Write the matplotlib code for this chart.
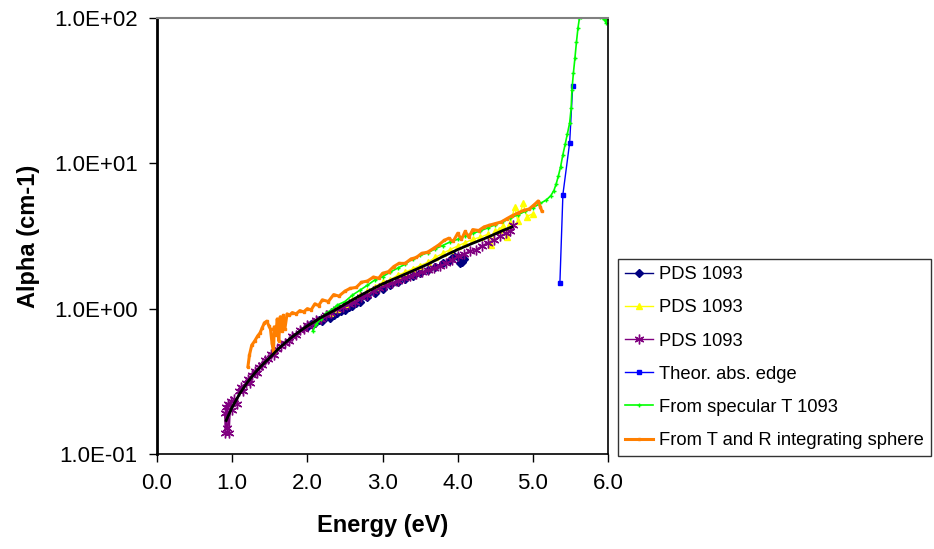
import matplotlib
matplotlib.use('Agg')
import matplotlib.pyplot as plt
from matplotlib.ticker import FixedLocator, FuncFormatter, NullLocator

plt.rcParams['font.family'] = ['Liberation Sans', 'DejaVu Sans']

# PDS 1093 (navy diamonds)
pds_a_e = [2.00, 2.05, 2.10, 2.15, 2.20, 2.25, 2.30, 2.35, 2.40, 2.45, 2.50, 2.55,
           2.60, 2.65, 2.70, 2.80, 2.90, 3.00, 3.10, 3.20, 3.30, 3.40, 3.50, 3.60,
           3.70, 3.80, 3.90, 3.95, 4.00, 4.03, 4.06, 4.08]
pds_a_y = [0.75, 0.78, 0.80, 0.83, 0.82, 0.87, 0.86, 0.91, 0.94, 0.96, 0.98, 1.02,
           1.05, 1.10, 1.12, 1.20, 1.28, 1.36, 1.45, 1.52, 1.60, 1.68, 1.76, 1.85,
           1.95, 2.05, 2.15, 2.30, 2.25, 2.05, 2.10, 2.20]

# PDS 1093 (yellow triangles)
pds_b_e = [2.30, 2.40, 2.50, 2.60, 2.70, 2.80, 2.90, 3.00, 3.10, 3.20, 3.30, 3.40,
           3.50, 3.60, 3.70, 3.80, 3.90, 4.00, 4.10, 4.20, 4.30, 4.40, 4.45, 4.50,
           4.55, 4.60, 4.65, 4.70, 4.76, 4.80, 4.87, 4.92, 5.00]
pds_b_y = [0.93, 1.00, 1.08, 1.15, 1.24, 1.32, 1.42, 1.52, 1.58, 1.70, 1.78, 1.88,
           1.98, 2.08, 2.25, 2.40, 2.55, 2.70, 2.85, 3.00, 3.10, 3.25, 2.75, 3.40,
           3.50, 3.70, 3.10, 3.90, 5.00, 4.00, 5.30, 4.30, 4.50]

# PDS 1093 (purple stars)
pds_c_e = [0.90, 0.91, 0.92, 0.93, 0.94, 0.96, 0.98, 1.00, 1.03, 1.06, 1.09, 1.12,
           1.15, 1.18, 1.21, 1.24, 1.27, 1.30, 1.33, 1.36, 1.40, 1.44, 1.48, 1.52,
           1.56, 1.60, 1.65, 1.70, 1.75, 1.80, 1.85, 1.90, 1.95, 2.00, 2.06, 2.12,
           2.18, 2.25, 2.32, 2.40, 2.48, 2.56, 2.64, 2.72, 2.80, 2.88, 2.96, 3.04,
           3.12, 3.20, 3.28, 3.36, 3.44, 3.52, 3.60, 3.68, 3.76, 3.84, 3.92, 4.00,
           4.08, 4.16, 4.24, 4.32, 4.40, 4.48, 4.56, 4.64, 4.70, 4.74]
pds_c_y = [0.19, 0.14, 0.21, 0.15, 0.22, 0.14, 0.23, 0.20, 0.24, 0.22, 0.27, 0.29,
           0.27, 0.31, 0.33, 0.31, 0.35, 0.37, 0.36, 0.40, 0.41, 0.44, 0.45, 0.49,
           0.48, 0.53, 0.55, 0.58, 0.60, 0.65, 0.66, 0.71, 0.72, 0.77, 0.78, 0.84,
           0.85, 0.91, 0.93, 0.99, 1.02, 1.08, 1.12, 1.20, 1.24, 1.33, 1.38, 1.45,
           1.50, 1.56, 1.62, 1.68, 1.72, 1.78, 1.84, 1.90, 1.98, 2.05, 2.15, 2.30,
           2.38, 2.50, 2.55, 2.70, 2.85, 2.95, 3.15, 3.30, 3.40, 3.75]

# Theoretical absorption edge
theor_e = [5.36, 5.40, 5.49, 5.53]
theor_y = [1.5, 6.1, 13.9, 34.0]

# From specular T 1093
spec_e = [2.07, 2.12, 2.18, 2.25, 2.32, 2.40, 2.50, 2.60, 2.70, 2.80, 2.90, 3.00,
          3.10, 3.20, 3.30, 3.40, 3.50, 3.60, 3.70, 3.80, 3.90, 4.00, 4.10, 4.20,
          4.30, 4.40, 4.50, 4.60, 4.70, 4.80, 4.90, 5.00, 5.10, 5.18, 5.24, 5.28,
          5.31, 5.34, 5.37, 5.40, 5.43, 5.46, 5.49, 5.51, 5.52, 5.54, 5.56, 5.58,
          5.60, 5.62, 5.64, 5.66, 5.75, 5.85, 5.90, 5.93, 5.95, 5.97, 5.99, 6.00]
spec_y = [0.70, 0.78, 0.85, 0.93, 0.98, 1.06, 1.12, 1.24, 1.34, 1.45, 1.58, 1.66,
          1.78, 1.90, 2.02, 2.20, 2.33, 2.42, 2.58, 2.72, 2.88, 3.00, 3.18, 3.30,
          3.42, 3.60, 3.78, 3.98, 4.20, 4.42, 4.68, 4.95, 5.30, 5.60, 6.00, 6.50,
          7.20, 8.20, 9.50, 11.5, 13.5, 16.0, 19.0, 24.0, 32.0, 42.0, 53.0, 68.0,
          85.0, 100, 102, 103, 125, 118, 101, 100, 99, 93, 101, 100]

# From T and R integrating sphere
sphere_e = [1.21, 1.23, 1.26, 1.30, 1.34, 1.37, 1.40, 1.43, 1.46, 1.49, 1.51, 1.53,
            1.55, 1.56, 1.58, 1.60, 1.62, 1.64, 1.66, 1.68, 1.70, 1.73, 1.76, 1.80,
            1.85, 1.90, 1.95, 2.00, 2.05, 2.10, 2.15, 2.20, 2.28, 2.35, 2.42, 2.50,
            2.57, 2.65, 2.72, 2.80, 2.88, 2.95, 3.00, 3.08, 3.15, 3.22, 3.30, 3.38,
            3.45, 3.52, 3.60, 3.68, 3.75, 3.82, 3.88, 3.94, 4.00, 4.05, 4.10, 4.15,
            4.20, 4.28, 4.35, 4.42, 4.50, 4.58, 4.65, 4.72, 4.80, 4.88, 4.95, 5.02,
            5.07, 5.10, 5.12]
sphere_y = [0.40, 0.48, 0.56, 0.60, 0.65, 0.68, 0.74, 0.80, 0.82, 0.76, 0.72, 0.58,
            0.50, 0.75, 0.66, 0.85, 0.60, 0.88, 0.70, 0.90, 0.72, 0.92, 0.90, 0.94,
            0.92, 0.97, 0.95, 1.00, 0.98, 1.08, 1.05, 1.15, 1.12, 1.25, 1.22, 1.32,
            1.38, 1.40, 1.52, 1.55, 1.65, 1.62, 1.75, 1.80, 1.95, 2.05, 2.05, 2.20,
            2.25, 2.40, 2.45, 2.60, 2.75, 2.95, 3.05, 2.90, 3.30, 3.00, 3.40, 3.10,
            3.50, 3.45, 3.65, 3.75, 3.85, 3.95, 4.15, 4.35, 4.55, 4.75, 4.85, 5.20,
            5.50, 5.00, 4.70]

# fitted curve (black, no legend entry)
fit_e = [0.92, 1.0, 1.1, 1.2, 1.3, 1.4, 1.5, 1.6, 1.7, 1.8, 1.9, 2.0, 2.2, 2.4,
         2.6, 2.8, 3.0, 3.2, 3.4, 3.6, 3.8, 4.0, 4.2, 4.4, 4.6, 4.72]
fit_y = [0.17, 0.21, 0.26, 0.31, 0.36, 0.41, 0.46, 0.52, 0.58, 0.64, 0.70, 0.76,
         0.88, 1.00, 1.15, 1.31, 1.48, 1.64, 1.82, 2.02, 2.28, 2.55, 2.82, 3.10,
         3.45, 3.65]

x_ticks = [0, 1, 2, 3, 4, 5, 6]
y_ticks = [0.1, 1, 10, 100]

fig = plt.figure(figsize=(9.34, 5.49), dpi=100)
ax = fig.add_axes([157 / 934, 95 / 549, 451 / 934, 436 / 549])

ax.plot(pds_a_e, pds_a_y, color='#000080', marker='D', markersize=4, lw=1,
        label='PDS 1093')
ax.plot(pds_b_e, pds_b_y, color='#FFFF00', marker='^', markersize=5, lw=1,
        label='PDS 1093')
ax.plot(pds_c_e, pds_c_y, color='#800080', marker=(6, 2, 0), markersize=7,
        markeredgewidth=1, lw=1, label='PDS 1093')
ax.plot(theor_e, theor_y, color='#0000FF', marker='s', markersize=3, lw=1,
        label='Theor. abs. edge')
ax.plot(spec_e, spec_y, color='#00FF00', marker='+', markersize=3, lw=1.2,
        label='From specular T 1093')
ax.plot(sphere_e, sphere_y, color='#FF7F00', marker='s', markersize=2, lw=2.2,
        label='From T and R integrating sphere')
ax.plot(fit_e, fit_y, color='black', lw=2, zorder=5)

ax.set_yscale('log')
ax.set_xlim(0, 6)
ax.set_ylim(0.1, 100)
ax.xaxis.set_major_locator(FixedLocator(x_ticks))
ax.xaxis.set_major_formatter(FuncFormatter(lambda v, p: f'{v:.1f}'))
ax.yaxis.set_major_locator(FixedLocator(y_ticks))
ax.yaxis.set_minor_locator(NullLocator())
ax.yaxis.set_major_formatter(FuncFormatter(lambda v, p: f'{v:.1E}'))
ax.tick_params(labelsize=16, length=6, width=1, direction='out', pad=8)

ax.spines['left'].set_linewidth(2)
ax.spines['bottom'].set_linewidth(1.2)
ax.spines['right'].set_linewidth(1.2)
ax.spines['top'].set_color('#808080')
ax.spines['top'].set_linewidth(1.5)

ax.set_xlabel('Energy (eV)', fontsize=17, fontweight='bold', labelpad=14)
ax.set_ylabel('Alpha (cm-1)', fontsize=17, fontweight='bold', labelpad=10)

leg = fig.legend(loc='upper left', bbox_to_anchor=(618 / 934, 1 - 259 / 549),
                 fontsize=13.2, frameon=True, fancybox=False, edgecolor='black',
                 handlelength=1.5, labelspacing=0.88, borderpad=0.4,
                 handletextpad=0.35, borderaxespad=0)
leg.get_frame().set_linewidth(1)

fig.savefig('out.png', dpi=100)
